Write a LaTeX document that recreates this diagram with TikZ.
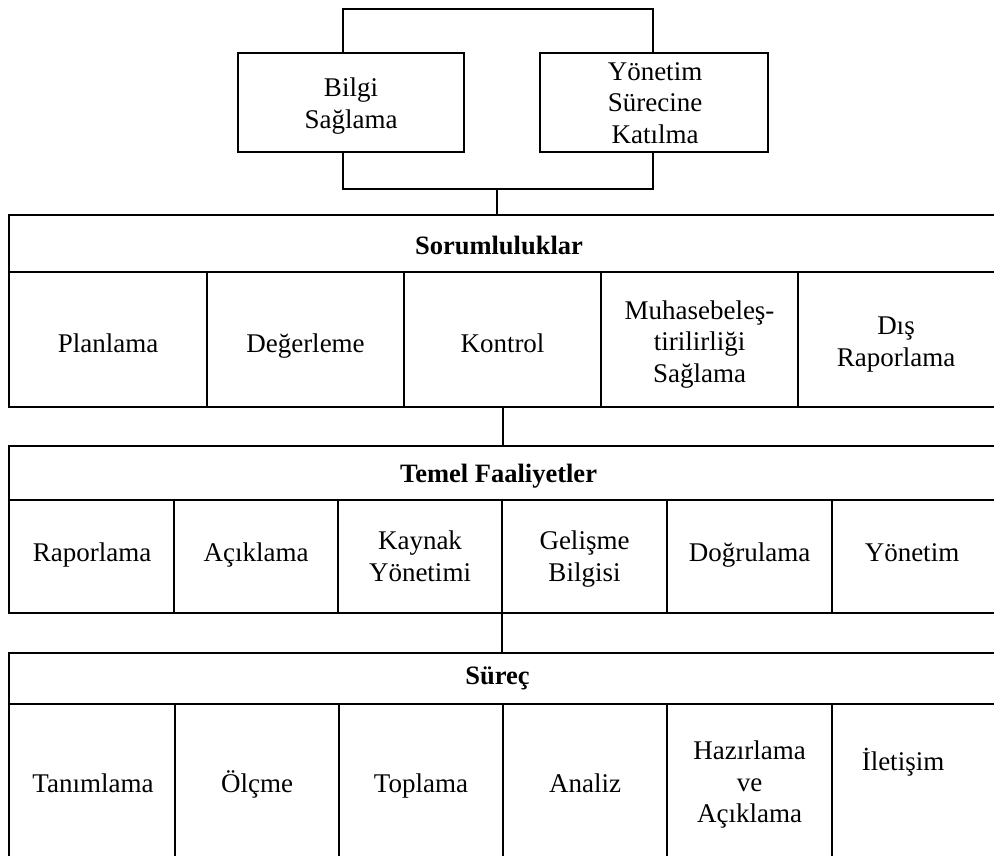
\documentclass[tikz,border=0pt]{standalone}
\usepackage{fontspec}
\setmainfont{Liberation Serif}
\begin{document}
\begin{tikzpicture}[x=1pt,y=-1pt,line width=1.8pt,
  every node/.style={font=\fontsize{27}{31.5}\selectfont,align=center,inner sep=0pt},
  head/.style={font=\fontsize{26.5}{31.5}\selectfont\bfseries},
  topbox/.style={draw,line width=1.8pt,minimum height=99pt},
  grid/.style={line width=1.8pt}]
\useasboundingbox (0,0) rectangle (994,856);

% --- the two top boxes and their bracket ---
\node[topbox,minimum width=226pt] (bilgi) at (351,102.5) {};
\node[topbox,minimum width=228pt] (katil) at (654,102.5) {};
\node (bilgiT) at (351,106) {\strut Bilgi\\\strut Sağlama};
\node (katilT) at (655,105.5) {\strut Yönetim\\\strut Sürecine\\\strut Katılma};
\coordinate (tl) at (343,9);
\coordinate (tr) at (653,9);
\coordinate (bl) at (343,189);
\coordinate (br) at (653,189);
\coordinate (bm) at (497,189);
\draw[grid] (bilgi.north -| tl) -- (tl) -- (tr) -- (katil.north -| tr);
\draw[grid] (bilgi.south -| bl) -- (bl) -- (br) -- (katil.south -| br);

% --- Sorumluluklar ---
\coordinate (ra) at (497,215);
\draw[grid] (bm) -- (ra);
\draw[grid] (994,215) -- (9,215) -- (9,407) -- (994,407);
\draw[grid] (9,272) -- (994,272);
\foreach \x in {207,404,601,798} \draw[grid] (\x,272) -- (\x,407);
\node[head] (sor) at (499,248.5) {\strut Sorumluluklar};
\node (s1) at (108,346.5) {\strut Planlama};
\node (s2) at (305.5,346.5) {\strut Değerleme};
\node (s3) at (502.5,346.5) {\strut Kontrol};
\node (s4) at (699.5,344.5) {\strut Muhasebeleş-\\\strut tirilirliği\\\strut Sağlama};
\node (s5) at (896,344) {\strut Dış\\\strut Raporlama};

% --- Temel Faaliyetler ---
\coordinate (rb) at (503,407);
\coordinate (ta) at (503,446);
\draw[grid] (rb) -- (ta);
\draw[grid] (994,446) -- (9,446) -- (9,613) -- (994,613);
\draw[grid] (9,500) -- (994,500);
\foreach \x in {174,338,502,667,832} \draw[grid] (\x,500) -- (\x,613);
\node[head] (tem) at (498.5,476.5) {\strut Temel Faaliyetler};
\node (t1) at (92,555.5) {\strut Raporlama};
\node (t2) at (256,555.5) {\strut Açıklama};
\node (t3) at (420,559) {\strut Kaynak\\\strut Yönetimi};
\node (t4) at (584.5,559) {\strut Gelişme\\\strut Bilgisi};
\node (t5) at (749.5,555.5) {\strut Doğrulama};
\node (t6) at (912,555.5) {\strut Yönetim};

% --- Süreç ---
\coordinate (tb) at (502,613);
\coordinate (pa) at (502,653);
\draw[grid] (tb) -- (pa);
\draw[grid] (994,653) -- (9,653) -- (9,856);
\draw[grid] (9,704) -- (994,704);
\foreach \x in {175,339,503,667,832} \draw[grid] (\x,704) -- (\x,856);
\node[head] (sur) at (497.5,678.5) {\strut Süreç};
\node (p1) at (93,786.5) {\strut Tanımlama};
\node (p2) at (257,786.5) {\strut Ölçme};
\node (p3) at (421,786.5) {\strut Toplama};
\node (p4) at (585,786.5) {\strut Analiz};
\node (p5) at (749.5,785) {\strut Hazırlama\\\strut ve\\\strut Açıklama};
\node (p6) at (903,764.5) {\strut İletişim};
\end{tikzpicture}
\end{document}
